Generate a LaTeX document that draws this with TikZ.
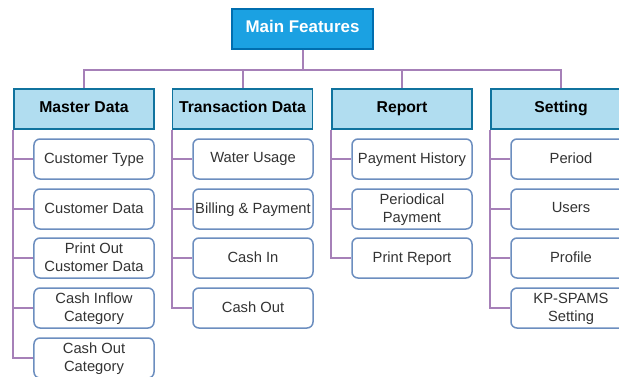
\documentclass[tikz,border=0pt]{standalone}
\usepackage{fontspec}
\setmainfont{Liberation Sans}
\definecolor{TopBlue}{HTML}{1BA1E2}
\definecolor{TopEdge}{HTML}{006EAF}
\definecolor{GroupFill}{HTML}{B1DDF0}
\definecolor{GroupEdge}{HTML}{10739E}
\definecolor{ItemEdge}{HTML}{6C8EBF}
\definecolor{LinkPurple}{HTML}{A680B8}
\definecolor{ItemText}{HTML}{333333}
\usepackage{tikz}
\usetikzlibrary{positioning, calc}

\begin{document}
\begin{tikzpicture}[
  x=1bp, y=-1bp,
  topbox/.style={rectangle, draw=TopEdge, fill=TopBlue, text=white, minimum width=141bp, minimum height=40bp, font=\fontsize{17}{20}\selectfont\bfseries, text height=0.72em, text depth=0em, line width=1.5bp, inner sep=0pt},
  groupbox/.style={rectangle, draw=GroupEdge, fill=GroupFill, minimum width=140bp, minimum height=40bp, font=\fontsize{15.8}{19}\selectfont\bfseries, text height=0.72em, text depth=0em, line width=1.5bp, inner sep=0pt},
  itembox/.style={rectangle, rounded corners=6bp, draw=ItemEdge, fill=white, text=ItemText, minimum width=120bp, minimum height=40bp, font=\fontsize{14.8}{18}\selectfont, align=center, text depth=0.22em, line width=1.5bp, inner sep=0pt},
  link/.style={draw=LinkPurple, line width=2bp}
]
\useasboundingbox (0,0) rectangle (619,376);
\clip (0,0) rectangle (619,376);

% Top node
\node[topbox] (main) at (302.5,29) {Main Features};

% Row 1: groups
\node[groupbox] (master) at (84,109) {Master Data};
\node[groupbox] (trans) at (242.5,109) {Transaction Data};
\node[groupbox] (report) at (402,109) {Report};
\node[groupbox] (setting) at (561,109) {Setting};

% Master Data items
\node[itembox] (custtype) at (94,159) {Customer Type};
\node[itembox] (custdata) at (94,209) {Customer Data};
\node[itembox] (printcust) at (94,258) {Print Out\\Customer Data};
\node[itembox] (inflow) at (94,308) {Cash Inflow\\Category};
\node[itembox] (outcat) at (94,358) {Cash Out\\Category};

% Transaction Data items
\node[itembox] (water) at (253,159) {Water Usage};
\node[itembox] (billing) at (253,209) {Billing \& Payment};
\node[itembox] (cashin) at (253,258) {Cash In};
\node[itembox] (cashout) at (253,308) {Cash Out};

% Report items
\node[itembox] (payhist) at (412,159) {Payment History};
\node[itembox] (periodpay) at (412,209) {Periodical\\Payment};
\node[itembox] (printrep) at (412,258) {Print Report};

% Setting items
\node[itembox] (period) at (571,159) {Period};
\node[itembox] (users) at (571,209) {Users};
\node[itembox] (profile) at (571,258) {Profile};
\node[itembox] (kpspams) at (571,308) {KP-SPAMS\\Setting};

% Top to groups
\foreach \g in {master, trans, report, setting}
  \draw[link] (main.south) -- ++(0,20) -| (\g.north);

% Groups to items
\foreach \i in {custtype, custdata, printcust, inflow, outcat}
  \draw[link] (master.south west) |- (\i.west);
\foreach \i in {water, billing, cashin, cashout}
  \draw[link] (trans.south west) |- (\i.west);
\foreach \i in {payhist, periodpay, printrep}
  \draw[link] (report.south west) |- (\i.west);
\foreach \i in {period, users, profile, kpspams}
  \draw[link] (setting.south west) |- (\i.west);

\end{tikzpicture}
\end{document}
